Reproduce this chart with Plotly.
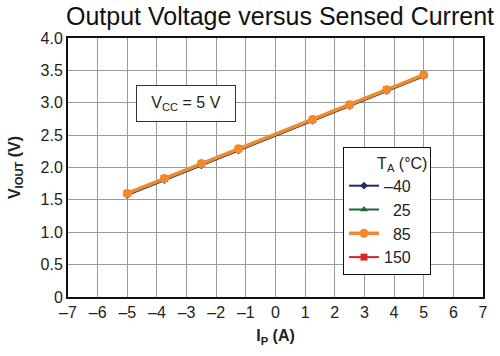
import plotly.graph_objects as go

ip = [-5, -3.75, -2.5, -1.25, 1.25, 2.5, 3.75, 5]
v_m40 = [1.575, 1.805, 2.035, 2.265, 2.72, 2.95, 3.18, 3.41]
v_25 = [1.585, 1.815, 2.045, 2.275, 2.73, 2.96, 3.19, 3.42]
v_85 = [1.60, 1.83, 2.06, 2.29, 2.74, 2.97, 3.20, 3.43]
v_150 = [1.60, 1.83, 2.06, 2.29, 2.74, 2.97, 3.20, 3.43]

series = [
    ("\u201340", v_m40, "#1f2a6e", "diamond", 6),
    ("\u00a0\u00a025", v_25, "#1a6b3a", "triangle-up", 7),
    ("\u00a0\u00a085", v_85, "#f08a2c", "circle", 9),
    ("150", v_150, "#d9262b", "square", 7),
]

xticks = list(range(-7, 8))
xlabels = [("\u2013" + str(-t)) if t < 0 else str(t) for t in xticks]
yticks = [0, 0.5, 1.0, 1.5, 2.0, 2.5, 3.0, 3.5, 4.0]
ylabels = ["0", "0.5", "1.0", "1.5", "2.0", "2.5", "3.0", "3.5", "4.0"]

fig = go.Figure()
order = [3, 0, 1, 2]
for i in order:
    name, vals, col, sym, ms = series[i]
    fig.add_trace(go.Scatter(
        x=ip, y=vals, mode="lines+markers", name=name,
        line=dict(color=col, width=3.5 if i == 2 else 2),
        marker=dict(color=col, symbol=sym, size=ms),
        legendrank=i + 1,
    ))

font = "Liberation Sans, Arial, sans-serif"
fig.update_layout(
    width=500, height=356,
    margin=dict(l=68, r=17, t=38, b=59),
    paper_bgcolor="white", plot_bgcolor="white",
    font=dict(family=font, size=16, color="#222"),
    title=dict(text="Output Voltage versus Sensed Current", x=280 / 500, xanchor="center",
               y=1 - 16 / 356, yanchor="middle", font=dict(size=25, color="#111")),
    xaxis=dict(range=[-7, 7], tickvals=xticks, ticktext=xlabels, showgrid=True,
               gridcolor="#9a9a9a", gridwidth=1, zeroline=False, showline=True,
               linecolor="#111", linewidth=2, mirror=True, ticks="", ticklen=0,
               tickfont=dict(size=16),
               title=dict(text="<b>I<sub>P</sub> (A)</b>", font=dict(size=16), standoff=10)),
    yaxis=dict(range=[0, 4], tickvals=yticks, ticktext=ylabels, showgrid=True,
               gridcolor="#9a9a9a", gridwidth=1, zeroline=False, showline=True,
               linecolor="#111", linewidth=2, mirror=True, ticks="", ticklen=0,
               tickfont=dict(size=16),
               title=dict(text="<b>V<sub>IOUT</sub> (V)</b>", font=dict(size=16), standoff=16)),
    legend=dict(x=(343 - 68) / 415, y=(297 - 147) / 259, xanchor="left", yanchor="top",
                bgcolor="white", bordercolor="#111", borderwidth=1,
                title=dict(text="\u00a0\u00a0\u00a0\u00a0\u00a0\u00a0\u00a0T<sub>A</sub> (°C)", font=dict(size=16)),
                font=dict(size=16), tracegroupgap=0, itemwidth=30,
                traceorder="normal"),
    showlegend=True,
    annotations=[dict(text="V<sub>CC</sub> = 5 V", xref="paper", yref="paper",
                      x=(186 - 68) / 415, y=(297 - 103) / 259, xanchor="center", yanchor="middle",
                      showarrow=False, bgcolor="white", bordercolor="#333", borderwidth=1,
                      borderpad=8, font=dict(size=16), width=82)],
)

fig.write_html("out.html", config={"displayModeBar": False},
               post_script="document.body.style.margin='0';")
